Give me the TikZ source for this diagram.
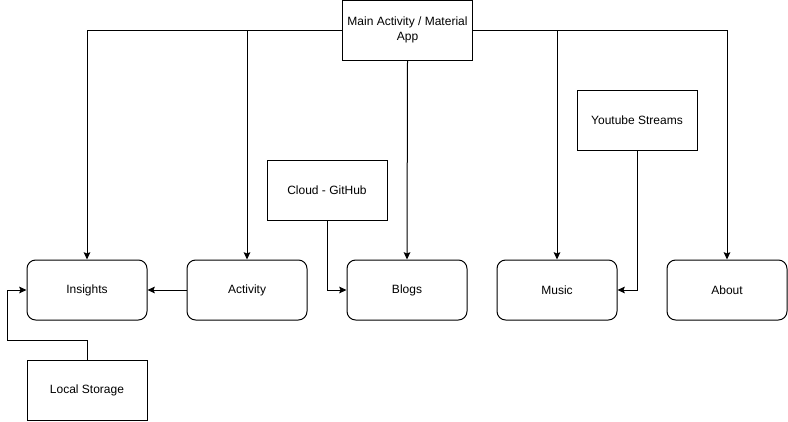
\documentclass[tikz,border=0pt]{standalone}
\usepackage{fontspec}
\setmainfont{Liberation Sans}
\usetikzlibrary{arrows.meta}
\begin{document}
\begin{tikzpicture}[x=0.75pt,y=-0.75pt,
  box/.style={draw,line width=0.75pt,minimum width=90pt,minimum height=45pt,inner sep=0pt,font=\fontsize{9}{11}\selectfont,align=center},
  rbox/.style={box,rounded corners=6.5pt},
  arr/.style={draw,line width=0.75pt,-{Stealth[length=5.5pt,width=5pt,inset=1pt]}},
  ln/.style={draw,line width=0.75pt}]
\useasboundingbox (0,0) rectangle (788,421);
\node[box,minimum width=97.5pt] (main) at (407.5,30) {Main Activity / Material\\App};
\node[rbox] (ins) at (87,290) {Insights};
\node[rbox] (act) at (247,290) {Activity};
\node[rbox] (blogs) at (407,290) {Blogs};
\node[rbox] (music) at (557,290) {Music};
\node[rbox] (about) at (727,290) {About};
\node[box] (cloud) at (327,190) {Cloud - GitHub};
\node[box] (yt) at (637,120) {Youtube Streams};
\node[box] (local) at (87,390) {Local Storage};
\coordinate (lsA) at (7,340);
\draw[arr] (main.west) -| (ins.north);
\draw[arr] (main.west) -| (act.north);
\draw[arr] (main.south) -- (blogs.north);
\draw[arr] (main.east) -| (music.north);
\draw[arr] (main.east) -| (about.north);
\draw[arr] (act.west) -- (ins.east);
\draw[arr] (cloud.south) |- (blogs.west);
\draw[arr] (yt.south) |- (music.east);
\draw[ln] (local.north) |- (lsA);
\draw[arr] (lsA) |- (ins.west);
\end{tikzpicture}
\end{document}
